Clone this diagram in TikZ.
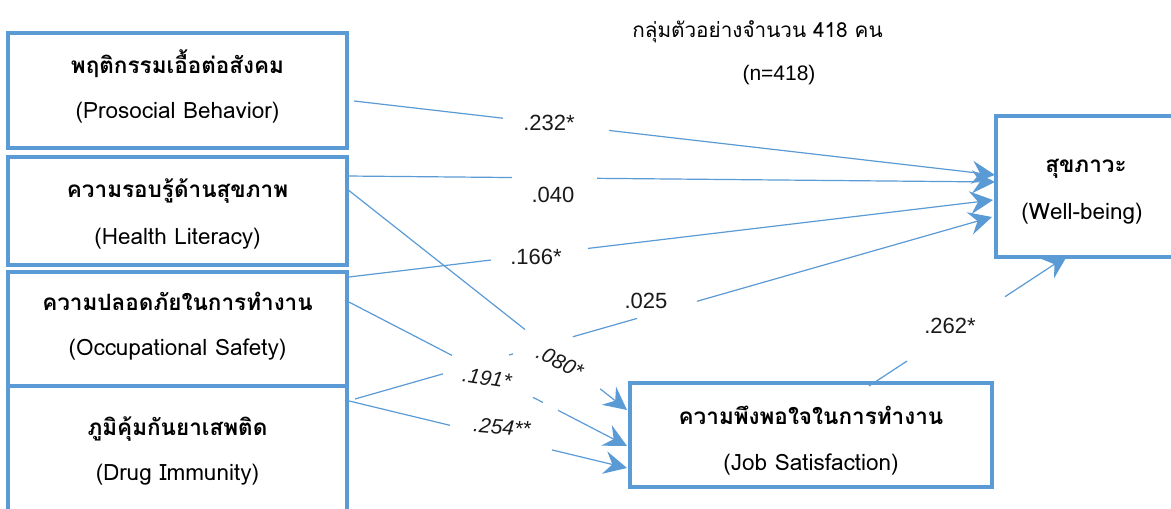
\documentclass[tikz,border=0pt]{standalone}
\usepackage{fontspec}
\setmainfont{Liberation Sans}
\newfontfamily\thaifont[Script=Thai]{Loma}
\usetikzlibrary{arrows.meta,calc}
\definecolor{lineblue}{HTML}{5B9BD5}
\definecolor{txtgray}{HTML}{1A1A1A}
\newcommand\cseg[4]{\draw[conn] ($(#1)!#3!(#2)$) -- ($(#1)!#4!(#2)$);}
\newcommand\carr[3]{\draw[conn,arr] ($(#1)!#3!(#2)$) -- (#2);}
\begin{document}
\begin{tikzpicture}[x=1pt,y=-1pt,
  box/.style={draw=lineblue,line width=3.2pt,rectangle,inner sep=0pt,outer sep=0pt},
  conn/.style={draw=lineblue,line width=1.2pt},
  arr/.style={-{Stealth[length=23pt,width=23pt,inset=8pt]}},
  thtxt/.style={font=\thaifont\bfseries\fontsize{22.5}{26}\selectfont,anchor=base,inner sep=0pt,text=black},
  entxt/.style={font=\thaifont\fontsize{22.5}{26}\selectfont,anchor=base,inner sep=0pt,text=black},
  coef/.style={font=\fontsize{22}{24}\selectfont,inner sep=0pt,text=txtgray},
  coefit/.style={font=\itshape\fontsize{21}{24}\selectfont,inner sep=0pt,text=txtgray}
]
\fill[white] (0,0) rectangle (1171,509);
\useasboundingbox (0,0) rectangle (1171,509);

% boxes
\node[box,minimum width=339pt,minimum height=115pt] (pro) at (177.5,90.5) {};
\node[box,minimum width=339pt,minimum height=108pt] (hl) at (177.5,211) {};
\node[box,minimum width=339pt,minimum height=114pt] (os) at (177.5,329) {};
\node[box,minimum width=339pt,minimum height=144pt] (di) at (177.5,458) {};
\node[box,minimum width=180pt,minimum height=141pt] (wb) at (1086,186.5) {};
\node[box,minimum width=362pt,minimum height=104pt] (js) at (811,435) {};

% connector end points
\coordinate (l1a) at ($(pro.east)+(7,10.5)$);
\coordinate (l1b) at ($(wb.west)+(-1,-11.5)$);
\coordinate (l2a) at ($(hl.east)+(0,-35)$);
\coordinate (l2b) at ($(wb.west)+(-1,-4.5)$);
\coordinate (l3a) at ($(os.east)+(2,-52)$);
\coordinate (l3b) at ($(wb.west)+(-3,13.5)$);
\coordinate (l4a) at ($(di.east)+(8,-59)$);
\coordinate (l4b) at ($(wb.west)+(-4,30.5)$);
\coordinate (l5a) at ($(hl.east)+(0,-22)$);
\coordinate (l5b) at ($(js.west)+(-3,-25)$);
\coordinate (l6a) at ($(os.east)+(-2,-29)$);
\coordinate (l6b) at ($(js.west)+(-3,11)$);
\coordinate (l7a) at ($(di.east)+(-2,-58)$);
\coordinate (l7b) at ($(js.west)+(-3,33)$);
\coordinate (l8a) at ($(js.north)+(58,3)$);
\coordinate (l8b) at ($(wb.south)+(-19,-1)$);

% connectors (with gaps where labels sit)
\cseg{l1a}{l1b}{0}{0.2325} \carr{l1a}{l1b}{0.398}
\cseg{l2a}{l2b}{0}{0.2546} \carr{l2a}{l2b}{0.3858}
\cseg{l3a}{l3b}{0}{0.2205} \carr{l3a}{l3b}{0.3711}
\cseg{l4a}{l4b}{0}{0.138} \cseg{l4a}{l4b}{0.2418}{0.248} \cseg{l4a}{l4b}{0.342}{0.4427} \carr{l4a}{l4b}{0.537}
\cseg{l5a}{l5b}{0}{0.636} \carr{l5a}{l5b}{0.904}
\cseg{l6a}{l6b}{0}{0.3794} \cseg{l6a}{l6b}{0.6667}{0.702} \carr{l6a}{l6b}{0.7553}
\cseg{l7a}{l7b}{0}{0.3723} \carr{l7a}{l7b}{0.734}
\cseg{l8a}{l8b}{0}{0.192} \carr{l8a}{l8b}{0.687}

% box texts
\node[thtxt] (proth) at (177.5,73) {พฤติกรรมเอื้อต่อสังคม};
\node[entxt] (proen) at (177.5,118) {(Prosocial Behavior)};
\node[thtxt] (hlth) at (177.5,197) {ความรอบรู้ด้านสุขภาพ};
\node[entxt] (hlen) at (177.5,244) {(Health Literacy)};
\node[thtxt] (osth) at (177.5,310) {ความปลอดภัยในการทำงาน};
\node[entxt] (osen) at (177.5,355) {(Occupational Safety)};
\node[thtxt] (dith) at (177.5,435) {ภูมิคุ้มกันยาเสพติด};
\node[entxt] (dien) at (177.5,480) {(Drug Immunity)};
\node[thtxt] (wbth) at (1086,172) {สุขภาวะ};
\node[entxt] (wben) at (1082,219) {(Well-being)};
\node[thtxt] (jsth) at (811,424) {ความพึงพอใจในการทำงาน};
\node[entxt] (jsen) at (811,470) {(Job Satisfaction)};

% title
\node[font=\thaifont\fontsize{20.7}{24}\selectfont,anchor=base,inner sep=0pt] (title) at (757.5,37) {กลุ่มตัวอย่างจำนวน 418 คน};
\node[font=\fontsize{21}{24}\selectfont,anchor=base,inner sep=0pt] (nn) at (779,80) {(n=418)};

% coefficients
\node[coef] (c1) at (549,122.5) {.232*};
\node[coef] (c2) at (553,194.5) {.040};
\node[coef] (c3) at (536,257) {.166*};
\node[coef] (c4) at (646,300.5) {.025};
\node[coef] (c8) at (950,326) {.262*};
\node[coefit,rotate=-27] (c5) at (560,362) {.080*};
\node[coefit,rotate=-9] (c6) at (487,378) {.191*};
\node[coefit,rotate=-5] (c7) at (502,427) {.254**};
\end{tikzpicture}
\end{document}
